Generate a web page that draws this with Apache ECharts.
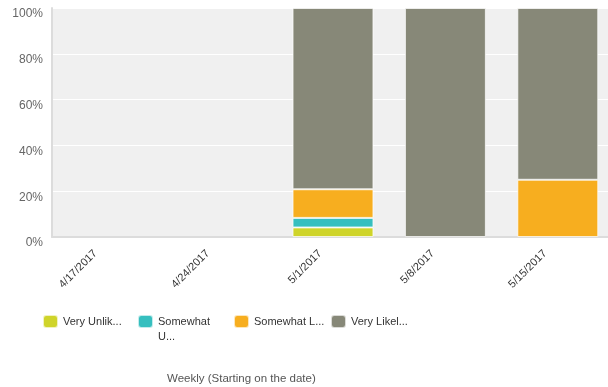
<!DOCTYPE html>
<html>
<head>
<meta charset="utf-8">
<script src="https://cdn.jsdelivr.net/npm/echarts@6/dist/echarts.min.js"></script>
<style>
html,body{margin:0;padding:0;background:#fff;overflow:hidden;}
#chart{width:616px;height:387px;}
</style>
</head>
<body>
<div id="chart"></div>
<script>
const categories = ['4/17/2017', '4/24/2017', '5/1/2017', '5/8/2017', '5/15/2017'];
const seriesNames = ['Very Unlikely', 'Somewhat Unlikely', 'Somewhat Likely', 'Very Likely'];
const legendLabels = ['Very Unlik...', 'Somewhat\nU...', 'Somewhat L...', 'Very Likel...'];
const veryUnlikely = [0, 0, 4.17, 0, 0];
const somewhatUnlikely = [0, 0, 4.17, 0, 0];
const somewhatLikely = [0, 0, 12.5, 0, 25];
const veryLikely = [0, 0, 79.16, 100, 75];
const yTicks = [0, 20, 40, 60, 80, 100];
const xAxisTitle = 'Weekly (Starting on the date)';

const colors = ['#cfd42a', '#36bfbf', '#f7ae1f', '#878878'];
const seriesData = [veryUnlikely, somewhatUnlikely, somewhatLikely, veryLikely];
const font = 'Liberation Sans, Arial, sans-serif';

const chart = echarts.init(document.getElementById('chart'));
const legendX = [42, 137, 233, 330];
const legendTop = 314;

const extraLines = [];
legendLabels.forEach((l, i) => {
  const parts = l.split('\n');
  parts.slice(1).forEach((p, k) => {
    extraLines.push({
      type: 'text', left: legendX[i] + 21, top: legendTop + 2 + 13 * (k + 1) + 2,
      style: { text: p, fill: '#333', font: '11px ' + font }
    });
  });
});

chart.setOption({
  animation: false,
  backgroundColor: '#fff',
  grid: {
    left: 52, top: 8, right: 2, bottom: 150,
    show: true, backgroundColor: '#f0f0f0', borderWidth: 0,
    containLabel: false
  },
  xAxis: {
    type: 'category',
    data: categories,
    axisLine: { show: true, lineStyle: { color: '#dcdcdc', width: 2 } },
    axisTick: { show: false },
    axisLabel: {
      rotate: 45, color: '#333', fontFamily: font, fontSize: 11, margin: 2, interval: 0,
      padding: [0, 18, 0, 0]
    },
    splitLine: { show: false }
  },
  yAxis: {
    type: 'value',
    min: yTicks[0], max: yTicks[yTicks.length - 1], interval: 20,
    axisLine: { show: true, lineStyle: { color: '#dcdcdc', width: 2 } },
    axisTick: { show: false },
    axisLabel: {
      formatter: v => v + '%', color: '#666', fontFamily: font, fontSize: 12,
      margin: 9, verticalAlign: 'top'
    },
    splitLine: { show: true, lineStyle: { color: '#ffffff', width: 1 } }
  },
  legend: seriesNames.map((n, i) => ({
    data: [n],
    left: legendX[i], top: legendTop, padding: 0,
    itemWidth: 15, itemHeight: 13, itemGap: 5,
    icon: 'roundRect',
    selectedMode: false,
    formatter: () => legendLabels[i].split('\n')[0],
    textStyle: {
      color: '#333', fontFamily: font, fontSize: 11, lineHeight: 13,
      padding: [2, 0, 0, 0], verticalAlign: 'top'
    }
  })),
  graphic: [{
    type: 'text', left: 167, top: 373,
    style: { text: xAxisTitle, fill: '#555', font: '11.5px ' + font }
  }].concat(extraLines),
  series: seriesNames.map((n, i) => ({
    name: n,
    type: 'bar',
    stack: 'total',
    data: seriesData[i].map(v => (v === 0 ? '-' : v)),
    barCategoryGap: '28%',
    itemStyle: { color: colors[i], borderColor: 'rgba(255,255,255,0.7)', borderWidth: 1 },
    emphasis: { disabled: true }
  }))
});
</script>
</body>
</html>
